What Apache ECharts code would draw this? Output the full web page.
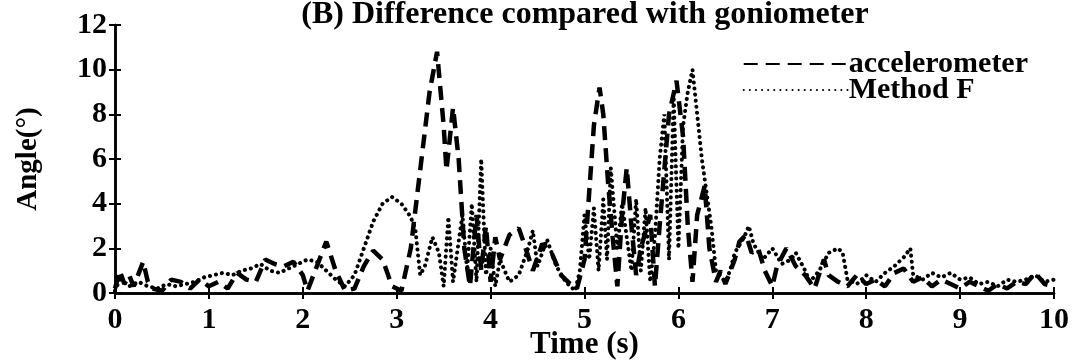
<!DOCTYPE html>
<html>
<head>
<meta charset="utf-8">
<script src="https://cdn.jsdelivr.net/npm/echarts@6/dist/echarts.min.js"></script>
<style>
  html, body { margin: 0; padding: 0; background: #fff; }
  #chart { width: 1083px; height: 362px; }
</style>
</head>
<body>
<div id="chart"></div>
<script>
// Time (s) and angle difference (deg)
var accelerometer = [
  [0.00, 0.2], [0.05, 1.0], [0.10, 0.4], [0.15, 0.8], [0.20, 0.3], [0.30, 1.4], [0.35, 0.5],
  [0.40, 0.2], [0.50, 0.1], [0.60, 0.6], [0.70, 0.5], [0.80, 0.2], [0.90, 0.6], [1.00, 0.3],
  [1.10, 0.5], [1.20, 0.2], [1.30, 0.9], [1.40, 0.6], [1.50, 0.5], [1.60, 1.5], [1.70, 1.3],
  [1.80, 1.2], [1.90, 1.4], [2.00, 0.8], [2.05, 0.1], [2.15, 1.2], [2.25, 2.3], [2.35, 1.0],
  [2.45, 0.1], [2.55, 0.2], [2.65, 1.2], [2.75, 1.9], [2.85, 1.5], [2.95, 0.3], [3.05, 0.1],
  [3.15, 2.0], [3.25, 5.5], [3.35, 9.0], [3.43, 10.8], [3.50, 7.5], [3.53, 5.5], [3.60, 8.3],
  [3.66, 6.0], [3.72, 2.0], [3.78, 0.3], [3.85, 3.5], [3.90, 1.0], [3.95, 3.0], [4.00, 0.5],
  [4.05, 2.5], [4.10, 1.5], [4.20, 2.6], [4.30, 2.9], [4.35, 2.3], [4.45, 1.0], [4.55, 2.2],
  [4.65, 1.8], [4.75, 0.8], [4.85, 0.4], [4.92, 0.2], [5.00, 1.5], [5.05, 4.5], [5.10, 7.5],
  [5.16, 9.2], [5.20, 8.0], [5.25, 5.0], [5.30, 2.5], [5.35, 0.3], [5.40, 3.5], [5.45, 5.6],
  [5.50, 3.0], [5.55, 0.8], [5.60, 2.0], [5.70, 3.5], [5.75, 0.3], [5.80, 3.0], [5.85, 5.5],
  [5.90, 8.0], [5.98, 9.5], [6.05, 7.0], [6.10, 3.0], [6.15, 0.5], [6.20, 3.5], [6.28, 4.8],
  [6.33, 2.0], [6.40, 0.5], [6.45, 1.0], [6.50, 0.4], [6.60, 1.5], [6.65, 2.3], [6.72, 2.6],
  [6.78, 1.8], [6.85, 2.0], [6.92, 1.0], [7.00, 0.3], [7.05, 1.2], [7.15, 2.0], [7.25, 1.2],
  [7.35, 0.8], [7.45, 0.2], [7.55, 1.5], [7.60, 0.8], [7.70, 0.5], [7.80, 0.3], [7.90, 0.8],
  [8.00, 0.4], [8.10, 0.6], [8.20, 0.3], [8.30, 0.9], [8.40, 1.1], [8.50, 0.5], [8.60, 0.7],
  [8.70, 0.3], [8.80, 0.6], [8.90, 0.4], [9.00, 0.2], [9.10, 0.5], [9.20, 0.3], [9.30, 0.1],
  [9.40, 0.4], [9.50, 0.2], [9.60, 0.5], [9.70, 0.4], [9.80, 0.9], [9.90, 0.4], [10.00, 0.3]
];
var methodF = [
  [0.00, 0.1], [0.05, 0.6], [0.15, 0.3], [0.25, 0.5], [0.35, 0.3], [0.45, 0.2], [0.55, 0.4],
  [0.65, 0.3], [0.75, 0.4], [0.85, 0.5], [0.95, 0.7], [1.05, 0.8], [1.15, 0.9], [1.25, 0.8],
  [1.35, 1.0], [1.45, 1.1], [1.55, 1.3], [1.65, 1.0], [1.75, 0.9], [1.85, 1.1], [1.95, 1.3],
  [2.05, 1.5], [2.15, 1.4], [2.25, 1.0], [2.35, 0.6], [2.45, 0.3], [2.55, 0.8], [2.65, 2.0],
  [2.75, 3.2], [2.85, 4.0], [2.95, 4.3], [3.05, 4.0], [3.15, 3.4], [3.20, 2.8], [3.25, 0.8],
  [3.30, 1.2], [3.38, 2.5], [3.45, 1.8], [3.50, 0.3], [3.55, 3.4], [3.60, 0.5], [3.70, 3.5],
  [3.75, 1.0], [3.80, 4.0], [3.85, 0.5], [3.90, 6.0], [3.95, 0.8], [4.00, 2.0], [4.05, 0.3],
  [4.10, 1.5], [4.20, 0.5], [4.30, 0.8], [4.40, 2.0], [4.45, 2.8], [4.50, 1.2], [4.60, 2.4],
  [4.70, 1.2], [4.80, 0.5], [4.90, 0.1], [4.95, 1.0], [5.00, 3.5], [5.05, 1.5], [5.10, 3.8],
  [5.15, 1.0], [5.20, 4.2], [5.24, 1.5], [5.28, 5.6], [5.35, 2.0], [5.40, 4.0], [5.50, 1.0],
  [5.55, 4.2], [5.60, 1.0], [5.65, 3.8], [5.70, 0.5], [5.75, 2.5], [5.80, 6.0], [5.85, 8.0],
  [5.90, 1.5], [5.95, 8.8], [6.00, 2.0], [6.05, 7.5], [6.10, 9.0], [6.15, 10.0], [6.20, 8.0],
  [6.25, 6.0], [6.30, 4.5], [6.35, 3.0], [6.40, 1.0], [6.50, 0.5], [6.55, 1.0], [6.60, 1.8],
  [6.70, 2.5], [6.75, 3.0], [6.80, 2.2], [6.90, 1.5], [7.00, 2.0], [7.10, 1.3], [7.20, 1.5],
  [7.25, 1.8], [7.35, 1.0], [7.40, 0.5], [7.50, 1.0], [7.60, 1.8], [7.70, 2.0], [7.75, 1.8],
  [7.80, 0.6], [7.90, 0.4], [8.00, 0.8], [8.10, 0.5], [8.20, 0.9], [8.30, 1.2], [8.40, 1.6],
  [8.47, 2.0], [8.50, 0.8], [8.60, 0.6], [8.70, 0.9], [8.80, 0.7], [8.90, 0.9], [9.00, 0.6],
  [9.10, 0.7], [9.20, 0.4], [9.30, 0.5], [9.40, 0.3], [9.50, 0.6], [9.60, 0.5], [9.70, 0.6],
  [9.80, 0.8], [9.90, 0.5], [10.00, 0.6]
];

var chart = echarts.init(document.getElementById("chart"));
var font = "'Liberation Serif', 'Times New Roman', serif";
var labelStyle = { color: "#000", fontFamily: font, fontWeight: "bold", fontSize: 30 };

var option = {
  animation: false,
  backgroundColor: "#fff",
  title: {
    text: "(B) Difference compared with goniometer",
    left: 580,
    textAlign: "center",
    top: -6,
    textStyle: { color: "#000", fontFamily: font, fontWeight: "bold", fontSize: 32 }
  },
  grid: { left: 115, right: 29, top: 25, bottom: 69, outerBoundsMode: "none" },
  legend: {
    orient: "vertical",
    right: 50,
    top: 44,
    itemWidth: 104,
    itemHeight: 14,
    itemGap: -4,
    itemStyle: { opacity: 0 },
    textStyle: { color: "#000", fontFamily: font, fontWeight: "bold", fontSize: 30, lineHeight: 22, padding: [0, 0, 0, -4] },
    data: ["accelerometer", "Method F"]
  },
  xAxis: [
    {
      type: "value",
      min: 0,
      max: 10,
      interval: 1,
      name: "Time (s)",
      nameLocation: "middle",
      nameGap: 36,
      nameMoveOverlap: false,
      nameTextStyle: { color: "#000", fontFamily: font, fontWeight: "bold", fontSize: 31 },
      axisLine: { show: true, lineStyle: { color: "#000", width: 2.5 } },
      axisTick: { show: true, inside: true, length: 6, lineStyle: { color: "#000", width: 2 } },
      axisLabel: Object.assign({ margin: 12 }, labelStyle),
      splitLine: { show: false }
    },
    {
      type: "value",
      position: "top",
      min: 0,
      max: 10,
      interval: 1,
      axisLine: { show: true, lineStyle: { color: "#000", width: 2.5 } },
      axisTick: { show: true, inside: true, length: 6, lineStyle: { color: "#000", width: 2 } },
      axisLabel: { show: false },
      splitLine: { show: false }
    }
  ],
  yAxis: [
    {
      type: "value",
      min: 0,
      max: 12,
      interval: 2,
      name: "Angle(°)",
      nameLocation: "middle",
      nameGap: 72,
      nameMoveOverlap: false,
      nameTextStyle: { color: "#000", fontFamily: font, fontWeight: "bold", fontSize: 29 },
      axisLine: { show: true, lineStyle: { color: "#000", width: 2.5 } },
      axisTick: { show: true, inside: true, length: 6, lineStyle: { color: "#000", width: 2 } },
      axisLabel: Object.assign({ margin: 8 }, labelStyle),
      splitLine: { show: false }
    },
    {
      type: "value",
      position: "right",
      min: 0,
      max: 12,
      interval: 2,
      axisLine: { show: true, lineStyle: { color: "#000", width: 2.5 } },
      axisTick: { show: true, inside: true, length: 6, lineStyle: { color: "#000", width: 2 } },
      axisLabel: { show: false },
      splitLine: { show: false }
    }
  ],
  series: [
    {
      name: "accelerometer",
      type: "line",
      symbol: "none",
      itemStyle: { color: "#000" },
      lineStyle: { color: "#000", width: 4.5, type: [14, 8] },
      data: accelerometer
    },
    {
      name: "Method F",
      type: "line",
      symbol: "none",
      itemStyle: { color: "#000" },
      lineStyle: { color: "#000", width: 4, type: [0.1, 6], cap: "round" },
      data: methodF
    }
  ]
};
chart.setOption(option);
</script>
</body>
</html>
